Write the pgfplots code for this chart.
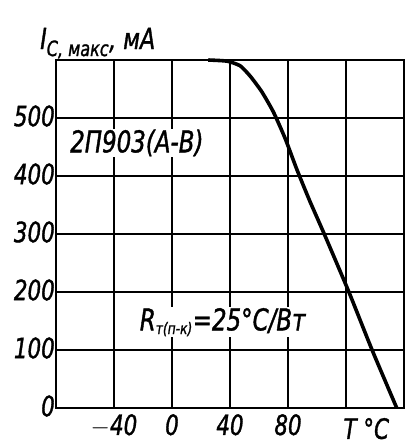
\documentclass[border=0pt]{standalone}
\usepackage{fontspec}
\setmainfont{DejaVu Sans Condensed}[FakeStretch=0.85, FakeBold=1.2]
\usepackage{pgfplots}
\pgfplotsset{compat=1.18}
\begin{document}
\begin{tikzpicture}
\useasboundingbox (-56pt,-37pt) rectangle (350pt,408pt);
\begin{axis}[
  at={(0,0)}, anchor=south west,
  scale only axis, width=348pt, height=348pt,
  xmin=-80, xmax=160, ymin=0, ymax=600,
  xtick={-80,-40,0,40,80,120,160},
  xticklabels={,$-$40,0,40,80,,},
  ytick={0,100,200,300,400,500,600},
  yticklabels={0,100,200,300,400,500,},
  major tick length=0pt,
  grid=major,
  grid style={black, line width=1.4pt},
  axis line style={black, line width=1.8pt},
  tick label style={font=\fontsize{28}{30}\selectfont\itshape},
  /pgf/number format/assume math mode=true,
  yticklabel style={anchor=east, inner sep=0pt, xshift=-1pt, yshift=2pt},
  xticklabel style={anchor=north, inner sep=0pt, yshift=-6pt},
  clip=false,
]
\addplot[black, line width=3.6pt, smooth, tension=0.35] coordinates {
  (25,600) (38,598) (47,590) (54,572) (62,545) (70,510) (78,465) (86,412) (95,357) (105,300) (122,200) (138,100) (155,0)
};
\node[anchor=west, fill=white, inner sep=1pt, font=\fontsize{30}{32}\selectfont\itshape] at (axis cs:-71,457) {2П903(А-В)};
\node[anchor=west, fill=white, inner sep=1pt, font=\fontsize{30}{32}\selectfont\itshape] at (axis cs:-23,148) {R\textsubscript{\fontsize{16}{17}\selectfont т(п-к)}=25°C/Вт};
\node[anchor=west, inner sep=0pt, font=\fontsize{29}{31}\selectfont\itshape] at (axis cs:-91,629) {I\textsubscript{\fontsize{21}{22}\selectfont C, макс}, мА};
\node[anchor=north, inner sep=0pt, font=\fontsize{28}{30}\selectfont\itshape] at (axis cs:134,-17) {T °C};
\end{axis}
\end{tikzpicture}
\end{document}
